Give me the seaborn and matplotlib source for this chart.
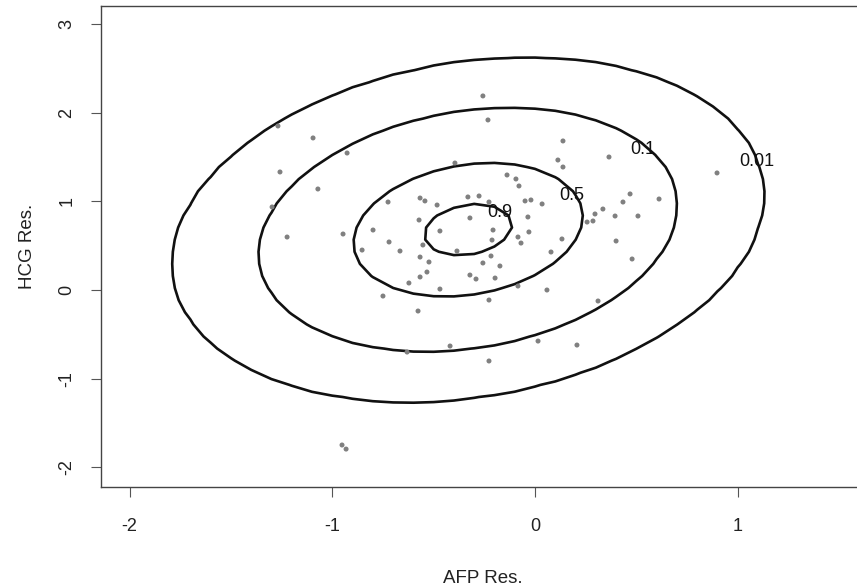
import numpy as np
import pandas as pd
import matplotlib
matplotlib.use("Agg")
import matplotlib.pyplot as plt
import seaborn as sns

# Residuals of the two markers (AFP on x, HCG on y)
afp_res = [
    -1.268, -1.095, -0.927, -1.258, -1.071, -1.297, -1.223, -0.947, -0.799, -0.725,
    -0.853, -0.720, -0.666, -0.750, -0.567, -0.543, -0.483, -0.572, -0.469, -0.553,
    -0.567, -0.523, -0.533, -0.567, -0.622, -0.469, -0.577, -0.631, -0.952, -0.932,
    -0.257, -0.232, 0.138, 0.113, 0.138, -0.138, -0.094, -0.079, -0.331, -0.276,
    -0.227, -0.049, -0.020, 0.035, -0.321, -0.207, -0.212, -0.035, -0.030, -0.084,
    -0.069, -0.385, -0.217, -0.257, -0.173, -0.321, -0.291, -0.197, -0.084, 0.059,
    0.079, 0.133, -0.227, 0.365, 0.898, 0.469, 0.612, 0.434, 0.335, 0.296,
    0.395, 0.508, 0.257, 0.400, 0.479, 0.311, -0.419, -0.227, 0.015, 0.207,
    -0.395, 0.286,
]
hcg_res = [
    1.851, 1.716, 1.546, 1.332, 1.140, 0.937, 0.598, 0.632, 0.677, 0.993,
    0.451, 0.542, 0.440, -0.068, 1.038, 1.005, 0.959, 0.790, 0.666, 0.508,
    0.372, 0.316, 0.203, 0.147, 0.079, 0.011, -0.237, -0.700, -1.749, -1.795,
    2.190, 1.919, 1.682, 1.467, 1.388, 1.298, 1.253, 1.174, 1.050, 1.061,
    0.993, 1.005, 1.016, 0.971, 0.813, 0.677, 0.564, 0.824, 0.655, 0.598,
    0.530, 0.440, 0.384, 0.305, 0.271, 0.169, 0.124, 0.135, 0.045, 0.000,
    0.429, 0.576, -0.113, 1.501, 1.321, 1.084, 1.027, 0.993, 0.914, 0.858,
    0.835, 0.835, 0.767, 0.553, 0.350, -0.124, -0.632, -0.801, -0.576, -0.621,
    1.433, 0.779,
]

# Fitted bivariate normal (density scaled to 1 at the mode)
mean_afp, mean_hcg = -0.33, 0.68
sd_afp, sd_hcg = 0.48, 0.64
rho = 0.2
levels = [0.01, 0.1, 0.5, 0.9]

x_ticks = [-2, -1, 0, 1]
y_ticks = [-2, -1, 0, 1, 2, 3]

df = pd.DataFrame({"AFP Res.": afp_res, "HCG Res.": hcg_res})

sns.set_style("white")
plt.rcParams["font.family"] = ["Liberation Sans", "DejaVu Sans"]

fig = plt.figure(figsize=(8.57, 5.88), dpi=100)
W, H = 857, 588
left_px, right_px, top_px, bottom_px = 101, 865, 6, 487
ax = fig.add_axes([left_px / W, 1 - bottom_px / H,
                   (right_px - left_px) / W, (bottom_px - top_px) / H])

# Density surface evaluated on a modest grid
gx = np.linspace(-2.2, 1.7, 40)
gy = np.linspace(-2.3, 3.3, 42)
X, Y = np.meshgrid(gx, gy)
zx = (X - mean_afp) / sd_afp
zy = (Y - mean_hcg) / sd_hcg
Q = (zx ** 2 - 2 * rho * zx * zy + zy ** 2) / (1 - rho ** 2)
Z = np.exp(-Q / 2)

cs = ax.contour(X, Y, Z, levels=levels, colors="#111111", linewidths=1.9)

sns.scatterplot(data=df, x="AFP Res.", y="HCG Res.", ax=ax, s=13,
                color="#808080", edgecolor="none", zorder=3)

# Contour labels, drawn level and without breaking the lines
label_spots = {0.01: (1.095, 1.445), 0.1: (0.533, 1.58),
               0.5: (0.183, 1.072), 0.9: (-0.173, 0.88)}
for lev in cs.levels:
    px, py = label_spots[float(lev)]
    ax.text(px, py, f"{lev:g}", fontsize=13, ha="center", va="center",
            color="#111111", zorder=4)

ax.set_xlim(-2.141, 1.628)
ax.set_ylim(-2.223, 3.205)
ax.set_xticks(x_ticks)
ax.set_yticks(y_ticks)
ax.set_xticklabels([str(t) for t in x_ticks])
ax.set_yticklabels([str(t) for t in y_ticks], rotation=90, va="center")

for side in ["left", "bottom", "top"]:
    ax.spines[side].set_color("#444444")
    ax.spines[side].set_linewidth(1.0)
ax.spines["right"].set_visible(False)

ax.tick_params(axis="both", direction="out", length=7.5, width=0.8,
               color="#555555", labelsize=13, labelcolor="#222222",
               bottom=True, left=True)
ax.tick_params(axis="x", pad=15)
ax.tick_params(axis="y", pad=11)

ax.set_xlabel("AFP Res.", fontsize=13.5, color="#222222", labelpad=25)
ax.set_ylabel("HCG Res.", fontsize=13.5, color="#222222", labelpad=16)

fig.savefig("out.png", dpi=100, facecolor="white")
